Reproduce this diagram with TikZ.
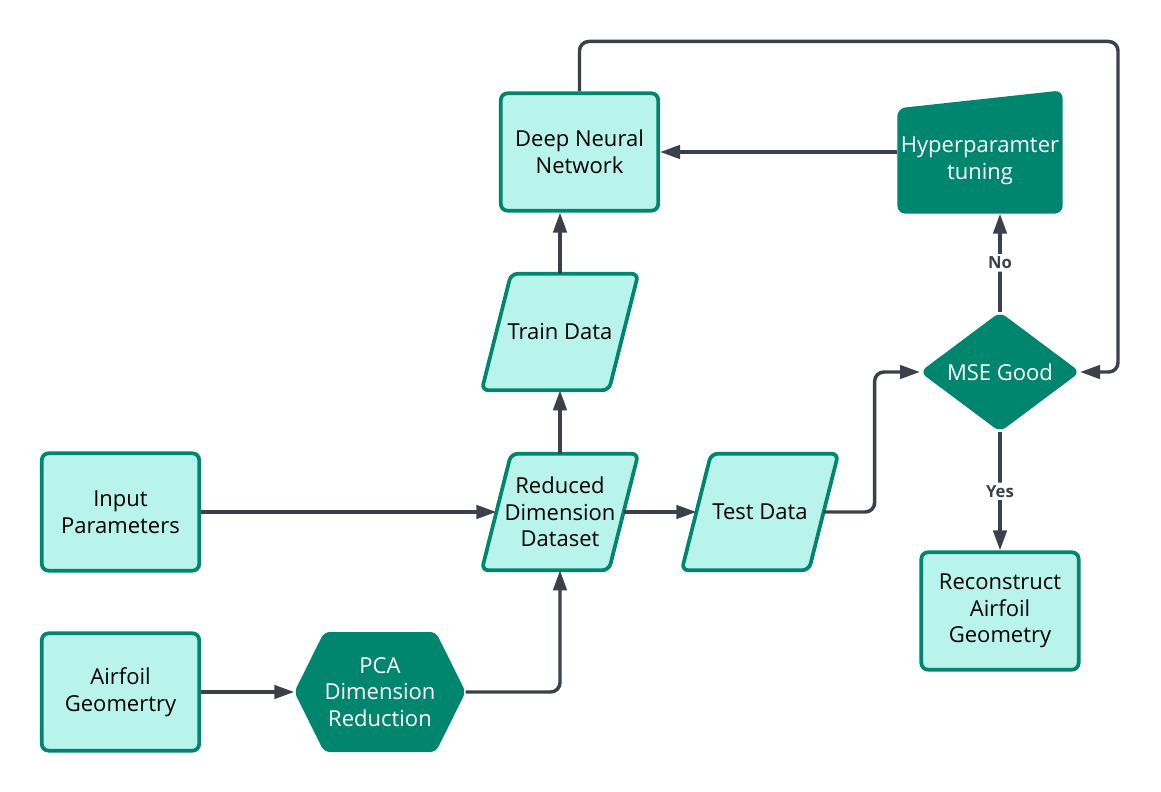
\documentclass[tikz,border=0pt]{standalone}
\usepackage{fontspec}
\setmainfont{Open Sans}
\usetikzlibrary{calc,positioning,arrows.meta,shapes.geometric,shapes.symbols,backgrounds}
\definecolor{flowfill}{HTML}{B8F4EB}
\definecolor{flowteal}{HTML}{00866F}
\definecolor{flowline}{HTML}{3B404B}
\newcommand{\flowarrowstyle}{-{Triangle[length=15pt,width=10pt]}}

\begin{document}
\begin{tikzpicture}[
    x=0.75pt, y=-0.75pt,
    font=\fontsize{16.5}{20}\selectfont,
    link/.style={\flowarrowstyle, flowline, line width=2.6pt, rounded corners=7pt},
    datbox/.style={draw=flowteal, fill=flowfill, line width=2.8pt, rounded corners=5pt, minimum width=118pt, minimum height=88pt, align=center, text=black, inner sep=0pt},
    datslant/.style={align=center, text=black, inner sep=0pt, minimum width=95pt, minimum height=87pt},
    slantedge/.style={draw=flowteal, fill=flowfill, line width=2.8pt, rounded corners=5pt},
    procbox/.style={fill=flowteal, draw=flowteal, line width=1pt, text=white, align=center, inner sep=0pt},
    ans/.style={fill=white, font=\fontsize{12.5}{14}\selectfont\bfseries, text=flowline, inner sep=2pt}
]
  \useasboundingbox (0,0) rectangle (1161,792);

  \node[datbox] (inparam) at (120.5,512) {Input\\Parameters};
  \node[datbox] (airfoil) at (120.5,692) {Airfoil\\Geomertry};
  \node[procbox, signal, signal to=west and east, signal pointer angle=127, minimum width=116pt, minimum height=89pt, rounded corners=4pt] (pca) at (380,692) {PCA\\Dimension\\Reduction};
  \node[datslant] (reduced) at (560,512) {Reduced\\Dimension\\Dataset};
  \node[datslant] (train) at (560,332) {Train Data};
  \node[datslant] (test) at (760,512) {Test Data};
  \node[datbox] (dnn) at (579.5,152) {Deep Neural\\Network};
  \node[procbox, fill=none, draw=none, minimum width=123pt, minimum height=78pt] (hyper) at (980,161) {Hyperparamter\\tuning};
  \node[procbox, diamond, aspect=1.33, minimum width=119pt, minimum height=89pt, rounded corners=5pt] (mse) at (1000,372) {MSE Good};
  \node[datbox] (recon) at (1000,611) {Reconstruct\\Airfoil\\Geometry};

  \begin{scope}[on background layer]
    \fill[flowteal, rounded corners=6pt] (hyper.south west) -- (hyper.north west) -- ([yshift=13.5pt]hyper.north east) -- (hyper.south east) -- cycle;
    \foreach \n in {reduced, train, test}
      \draw[slantedge] ([xshift=-11pt]\n.south west) -- ([xshift=11pt]\n.north west) -- ([xshift=11pt]\n.north east) -- ([xshift=-11pt]\n.south east) -- cycle;
  \end{scope}

  \draw[link] (inparam.east) -- (reduced.west);
  \draw[link] (airfoil.east) -- (pca.west);
  \draw[link] (pca.east) -| (reduced.south);
  \draw[link] (reduced.north) -- (train.south);
  \draw[link] (train.north) -- (train |- dnn.south);
  \draw[link] (reduced.east) -- (test.west);
  \draw[link] (test.east) -- ++(51,0) |- (mse.west);
  \draw[link] (mse.north) -- node[ans] {No} (mse |- hyper.south);
  \draw[link] (mse.south) -- node[ans] {Yes} (recon.north);
  \draw[link] (hyper.west |- dnn.east) -- (dnn.east);
  \draw[link] (dnn.north) -- ++(0,-50) -| ([xshift=28.5pt]mse.east) -- (mse.east);
\end{tikzpicture}
\end{document}
